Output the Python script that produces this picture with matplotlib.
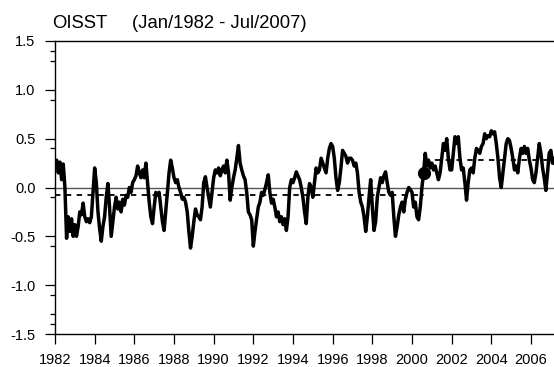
import matplotlib
matplotlib.use('Agg')
import matplotlib.pyplot as plt
import numpy as np

plt.rcParams['font.family'] = ['Liberation Sans', 'DejaVu Sans']

# monthly SST anomaly, one row per year (Jan..Dec), 2007 ends in July
sst_1982 = [0.22, 0.28, 0.15, 0.26, 0.08, 0.24, 0.0, -0.52, -0.3, -0.45, -0.32, -0.5]
sst_1983 = [-0.38, -0.5, -0.4, -0.25, -0.28, -0.16, -0.3, -0.35, -0.32, -0.36, -0.3, -0.05]
sst_1984 = [0.2, 0.05, -0.25, -0.42, -0.55, -0.4, -0.3, -0.1, 0.04, -0.2, -0.5, -0.35]
sst_1985 = [-0.2, -0.1, -0.22, -0.15, -0.25, -0.12, -0.18, -0.08, -0.1, 0.0, -0.05, 0.05]
sst_1986 = [0.08, 0.12, 0.22, 0.15, 0.1, 0.18, 0.1, 0.25, 0.05, -0.15, -0.3, -0.37]
sst_1987 = [-0.2, -0.05, -0.08, -0.05, -0.2, -0.35, -0.44, -0.25, -0.05, 0.15, 0.28, 0.2]
sst_1988 = [0.1, 0.05, 0.08, 0.0, -0.05, -0.12, -0.1, -0.15, -0.25, -0.45, -0.62, -0.5]
sst_1989 = [-0.35, -0.22, -0.28, -0.3, -0.33, -0.2, 0.05, 0.11, 0.0, -0.1, -0.2, -0.05]
sst_1990 = [0.1, 0.18, 0.15, 0.2, 0.12, 0.18, 0.22, 0.15, 0.28, 0.15, -0.13, 0.0]
sst_1991 = [0.1, 0.18, 0.3, 0.43, 0.25, 0.18, 0.12, 0.08, -0.05, -0.25, -0.28, -0.33]
sst_1992 = [-0.6, -0.45, -0.32, -0.2, -0.15, -0.05, -0.08, -0.02, 0.05, 0.13, -0.05, -0.16]
sst_1993 = [-0.12, -0.2, -0.3, -0.25, -0.35, -0.3, -0.38, -0.32, -0.44, -0.3, 0.0, 0.08]
sst_1994 = [0.05, 0.1, 0.16, 0.12, 0.08, 0.0, -0.1, -0.25, -0.37, -0.1, 0.04, 0.0]
sst_1995 = [-0.1, 0.05, 0.2, 0.15, 0.18, 0.3, 0.25, 0.2, 0.15, 0.3, 0.4, 0.45]
sst_1996 = [0.42, 0.3, 0.1, -0.03, 0.05, 0.2, 0.38, 0.35, 0.32, 0.25, 0.3, 0.3]
sst_1997 = [0.28, 0.22, 0.25, 0.15, -0.05, -0.15, -0.2, -0.3, -0.45, -0.3, -0.1, 0.08]
sst_1998 = [-0.2, -0.44, -0.35, -0.1, 0.0, 0.1, 0.05, 0.12, 0.16, 0.05, -0.05, -0.08]
sst_1999 = [-0.05, -0.3, -0.5, -0.4, -0.28, -0.2, -0.15, -0.25, -0.12, -0.05, 0.0, -0.02]
sst_2000 = [-0.05, -0.2, -0.15, -0.3, -0.33, -0.2, 0.0, 0.15, 0.35, 0.22, 0.28, 0.2]
sst_2001 = [0.25, 0.18, 0.22, 0.15, 0.08, 0.15, 0.3, 0.45, 0.38, 0.5, 0.3, 0.18]
sst_2002 = [0.18, 0.35, 0.52, 0.45, 0.52, 0.3, 0.18, 0.2, 0.05, -0.13, 0.05, 0.18]
sst_2003 = [0.2, 0.15, 0.3, 0.4, 0.38, 0.35, 0.42, 0.45, 0.55, 0.5, 0.53, 0.52]
sst_2004 = [0.58, 0.55, 0.57, 0.45, 0.3, 0.1, 0.0, 0.15, 0.3, 0.45, 0.5, 0.48]
sst_2005 = [0.4, 0.3, 0.18, 0.22, 0.15, 0.3, 0.4, 0.35, 0.42, 0.35, 0.4, 0.28]
sst_2006 = [0.2, 0.08, 0.05, 0.15, 0.3, 0.45, 0.35, 0.2, 0.1, -0.03, 0.15, 0.35]
sst_2007 = [0.38, 0.25, 0.3, 0.2, 0.25, 0.3, 0.22]

# period means before / after the shift
shift_year = 2000 + 7 / 12.
mean_before = -0.08
mean_after = 0.28

year_ticks = list(range(1982, 2007, 2))
y_ticks = [-1.5, -1.0, -0.5, 0.0, 0.5, 1.0, 1.5]
y_minor = [1.4, 1.3, 0.9, 0.4, -0.1, -0.6, -1.1, -1.3, -1.4]


def process():
    rows = [sst_1982, sst_1983, sst_1984, sst_1985, sst_1986, sst_1987,
            sst_1988, sst_1989, sst_1990, sst_1991, sst_1992, sst_1993,
            sst_1994, sst_1995, sst_1996, sst_1997, sst_1998, sst_1999,
            sst_2000, sst_2001, sst_2002, sst_2003, sst_2004, sst_2005,
            sst_2006, sst_2007]
    vals = np.concatenate([np.array(r) for r in rows])
    t = 1982 + np.arange(len(vals)) / 12.
    return t, vals


def show(t, vals):
    fig = plt.figure(figsize=(5.54, 3.67), dpi=100)
    ax = fig.add_axes([55 / 554., 33 / 367., 499 / 554., 293 / 367.])

    ax.axhline(0, color='#555555', lw=1.0, zorder=1)
    ax.plot([1982, shift_year], [mean_before, mean_before], 'k--', lw=1.3,
            dashes=(3, 3), zorder=2)
    ax.plot([shift_year, t[-1]], [mean_after, mean_after], 'k--', lw=1.3,
            dashes=(3, 3), zorder=2)
    ax.plot(t, vals, color='black', lw=2.5, zorder=3)

    i = np.argmin(np.abs(t - shift_year))
    ax.plot(t[i], vals[i], 'o', color='black', ms=8.5, zorder=4)

    ax.set_xlim(1982, 2007.16)
    ax.set_ylim(-1.5, 1.5)
    ax.set_xticks(year_ticks)
    ax.set_xticklabels([str(y) for y in year_ticks])
    ax.set_yticks(y_ticks)
    ax.set_yticklabels(['%.1f' % v for v in y_ticks])
    ax.set_yticks(y_minor, minor=True)

    ax.tick_params(axis='both', which='major', direction='out', length=7,
                   width=0.9, labelsize=10.5, pad=7)
    ax.tick_params(axis='y', which='minor', direction='out', length=3.5,
                   width=0.9)
    ax.tick_params(axis='x', which='minor', length=0)

    for s in ['left', 'bottom', 'top']:
        ax.spines[s].set_linewidth(1.0)
    ax.spines['right'].set_visible(False)

    fig.text(52 / 554., 1 - 28 / 367., 'OISST', fontsize=13.3, ha='left',
             va='baseline')
    fig.text(132 / 554., 1 - 28 / 367., '(Jan/1982 - Jul/2007)', fontsize=13.3,
             ha='left', va='baseline')

    fig.savefig('out.png', dpi=100)


if __name__ == "__main__":
    t, vals = process()
    show(t, vals)
